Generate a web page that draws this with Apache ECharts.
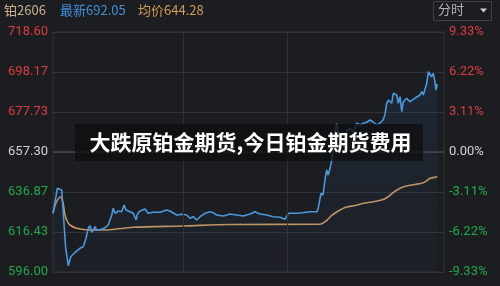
<!DOCTYPE html>
<html><head><meta charset="utf-8">
<script src="https://cdn.jsdelivr.net/npm/echarts@6/dist/echarts.min.js"></script>
<style>html,body{margin:0;padding:0;background:#1c1d21;}#c{width:500px;height:286px;}</style>
</head><body><div id="c"></div><script>
const contract = '铂2606';
const lastLabel = '最新692.05';
const avgLabel = '均价644.28';
const modeLabel = '分时';
const titleText = '大跌原铂金期货,今日铂金期货费用';
const leftTickLabels = ['596.00','616.43','636.87','657.30','677.73','698.17','718.60'];
const rightTickLabels = ['-9.33%','-6.22%','-3.11%','0.00%','3.11%','6.22%','9.33%'];
const priceMin = 596.00, priceMax = 718.60, refPrice = 657.30;
const totalMinutes = 225;
const sessionBreaks = [75, 135];
const minutes = [0,2.5,3.5,5,6,7.3,8.8,10.2,12.7,15.5,17.4,18,19,20.3,21.3,22.3,23.2,24.2,25.1,27,29.9,31.8,33.8,34.7,35.7,37.6,39.5,40.9,42,44.3,46.2,47.8,48.5,50.1,52.9,54.8,57.7,61.6,65.4,67.3,71.2,74.1,76.9,78.8,80.7,82.7,84.6,87.5,90.3,92.2,94.2,98,101.9,105.7,109.5,113.4,116.2,119.1,123,126.8,130.6,133.5,135.4,140.2,143.3,147.9,151.9,152.8,154.2,155.4,156.5,157.5,158.4,159.4,160.4,161.3,162.3,163.2,164.2,165.1,167,169,170.9,172.8,174.8,176.7,178.6,180.6,182.5,184.3,186.3,188.2,189.9,191,192,193,193.9,194.9,195.8,197.8,198.7,199.7,200.7,201.6,203.5,205.4,207.3,209.3,211.2,212.2,213.1,214.1,215.1,216,217,217.9,218.8,219.8,220.4,221.1];
const prices = [626.0,638.76,639.57,637.89,625.12,608.26,599.22,603.82,606.06,608.11,608.92,608.41,613.22,618.32,619.65,616.28,617.46,619.14,617.46,617.46,618.63,620.01,625.12,628.54,625.99,627.16,626.80,630.23,627.67,626.80,625.99,622.56,625.48,627.16,628.18,625.99,626.50,626.50,627.67,627.16,625.12,625.48,625.12,623.43,624.25,622.56,624.25,625.99,626.80,626.29,625.12,624.61,625.63,625.12,624.61,625.63,626.80,625.63,625.12,624.25,623.94,622.92,625.99,625.99,626.29,626.80,626.80,629.36,636.20,635.33,643.00,648.11,645.55,648.97,653.21,661.74,667.67,671.96,666.85,663.43,660.01,668.03,669.56,667.67,671.96,671.09,671.96,672.63,673.65,672.63,671.09,672.11,673.65,676.20,682.18,683.86,684.73,682.18,687.29,686.42,682.18,685.55,677.89,683.00,684.73,683.00,684.22,685.40,686.42,688.10,686.42,689.48,692.39,698.32,697.50,695.77,697.50,693.21,688.97,692.05];
const avgMinutes = [0,1.7,4.4,5.8,6.9,8.3,9.8,13.6,21.3,30.9,46,74.8,101.9,153.6,157.5,160,163.2,165.7,169,173.8,178.6,183.6,189.1,192.2,195.8,199.7,203.5,208.3,213.1,215.2,217,221.1];
const avgPrices = [625.99,631.25,634.47,631.25,625.12,621.80,620.01,618.32,617.46,617.46,618.83,619.50,620.27,620.40,622.31,624.61,626.65,627.93,629.20,629.97,631.09,631.76,632.78,634.06,636.61,638.76,639.93,640.70,641.62,642.74,643.87,644.6];

const span = priceMax - priceMin;
const step = span / 6;
const priceData = minutes.map((m, i) => [m, prices[i] - priceMin]);
const avgData = avgMinutes.map((m, i) => [m, avgPrices[i] - priceMin]);
const FONT = 'Roboto, "Noto Sans", sans-serif';
const CJK = '"Noto Sans CJK SC", "Noto Sans", sans-serif';
const rich = {
  g: {color: '#22a84b', fontSize: 13, fontFamily: FONT},
  r: {color: '#df3b3f', fontSize: 13, fontFamily: FONT},
  n: {color: '#d2d2d2', fontSize: 13, fontFamily: FONT}
};
function tagFor(i){ return i < 3 ? 'g' : (i > 3 ? 'r' : 'n'); }

const chart = echarts.init(document.getElementById('c'), null, {renderer: 'canvas'});
chart.setOption({
  backgroundColor: '#1c1d21',
  animation: false,
  grid: {left: 53, right: 56, top: 32, bottom: 14, show: true, borderColor: '#33353a', borderWidth: 1, backgroundColor: 'transparent'},
  xAxis: {type: 'value', min: 0, max: totalMinutes, show: false},
  yAxis: [{
    type: 'value', min: 0, max: span, interval: step, position: 'left',
    axisLine: {show: false}, axisTick: {show: false},
    splitLine: {show: true, lineStyle: {color: '#303237', width: 1}},
    axisLabel: {margin: 5, formatter: v => { const i = Math.round(v / step); return '{' + tagFor(i) + '|' + leftTickLabels[i] + '}'; }, rich: rich}
  }, {
    type: 'value', min: 0, max: span, interval: step, position: 'right',
    axisLine: {show: false}, axisTick: {show: false}, splitLine: {show: false},
    axisLabel: {margin: 5, formatter: v => { const i = Math.round(v / step); return '{' + tagFor(i) + '|' + rightTickLabels[i] + '}'; }, rich: rich}
  }],
  series: [{
    type: 'line', data: avgData, showSymbol: false, smooth: 0.3, z: 2,
    lineStyle: {color: '#c4955e', width: 1.6}
  }, {
    type: 'line', data: priceData, showSymbol: false, z: 3,
    lineStyle: {color: '#4a98de', width: 1.6},
    areaStyle: {origin: 'start', color: new echarts.graphic.LinearGradient(0, 0, 0, 1, [
      {offset: 0, color: 'rgba(50,115,185,0.18)'}, {offset: 1, color: 'rgba(50,115,185,0.04)'}])},
    markLine: {
      silent: true, symbol: 'none', label: {show: false}, animation: false,
      data: sessionBreaks.map(b => ({xAxis: b, lineStyle: {color: '#303237', width: 1, type: 'solid'}}))
        .concat([{yAxis: refPrice - priceMin, lineStyle: {color: '#45474d', width: 1.5, type: 'solid'}}])
    }
  }],
  graphic: [
    {type: 'text', left: 4, top: 4, z: 100, style: {text: contract, fill: '#c9b28c', font: '13px ' + CJK}},
    {type: 'text', left: 60, top: 4, z: 100, style: {text: lastLabel, fill: '#3f90d9', font: '13px ' + CJK}},
    {type: 'text', left: 138, top: 4, z: 100, style: {text: avgLabel, fill: '#d19b58', font: '13px ' + CJK}},
    {type: 'rect', left: 433, top: 1, z: 100, shape: {width: 58, height: 19}, style: {fill: 'transparent', stroke: '#3c3e44', lineWidth: 1}},
    {type: 'text', left: 438, top: 3, z: 100, style: {text: modeLabel, fill: '#b4b4b4', font: '13px ' + CJK}},
    {type: 'polygon', z: 100, shape: {points: [[480, 8.5], [487, 8.5], [483.5, 12.5]]}, style: {fill: '#cfcfcf'}},
    {type: 'rect', left: 75, top: 124, z: 100, shape: {width: 348, height: 37}, style: {fill: 'rgba(14,14,16,0.78)'}},
    {type: 'text', x: 250.5, y: 142.5, z: 101, style: {text: titleText, fill: '#ffffff', font: 'bold 21px ' + CJK, align: 'center', verticalAlign: 'middle'}}
  ]
});
</script></body></html>
